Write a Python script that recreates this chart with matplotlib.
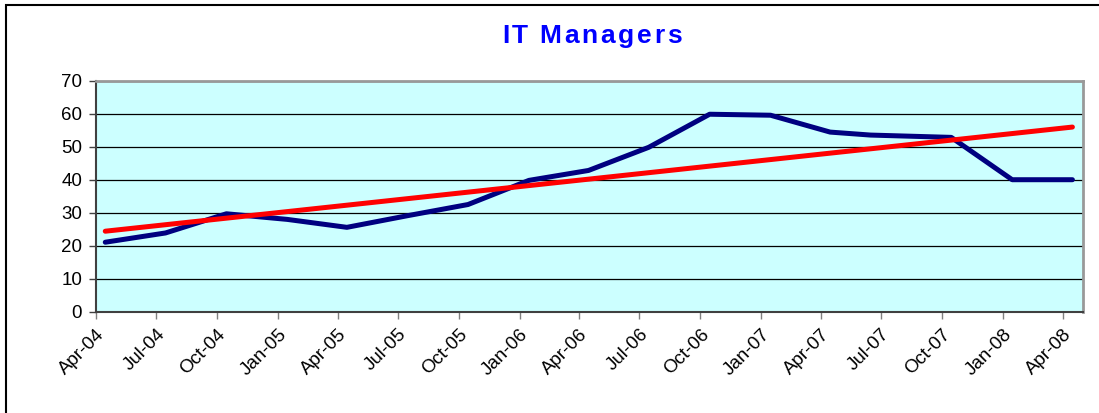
import matplotlib.pyplot as plt
import matplotlib.dates as mdates
import numpy as np
import pandas as pd
from datetime import datetime

plt.rcParams['font.family'] = ['Liberation Sans', 'DejaVu Sans']

# data
dates = ["2004-04-15", "2004-07-15", "2004-10-15", "2005-01-15", "2005-04-15",
         "2005-07-15", "2005-10-15", "2006-01-15", "2006-04-15", "2006-07-15",
         "2006-10-15", "2007-01-15", "2007-04-15", "2007-06-15", "2007-10-15",
         "2008-01-15", "2008-04-15"]
managers = [21.1, 23.9, 29.7, 28.0, 25.6, 29.1, 32.5, 39.8, 42.8, 49.8,
            59.8, 59.5, 54.4, 53.5, 52.8, 40.0, 40.0]
tick_dates = pd.date_range("2004-04-01", "2008-04-01", freq="3MS")
title = "IT Managers"

x = pd.to_datetime(dates)
xn = mdates.date2num(x)

# linear trendline like excel
slope, icpt = np.polyfit(xn, managers, 1)
trend = slope * xn + icpt

fig = plt.figure(figsize=(10.99, 4.13), dpi=100)
ax = fig.add_axes([96 / 1099, 1 - 312 / 413, (1083 - 96) / 1099, (312 - 80.5) / 413])
ax.set_facecolor("#CCFFFF")

ax.plot(x, managers, color="#000080", lw=3.6, solid_capstyle="round", zorder=3)
ax.plot([x[0], x[-1]], [trend[0], trend[-1]], color="#FF0000", lw=3.6,
        solid_capstyle="round", zorder=4)

ax.set_ylim(0, 70)
ax.set_yticks(range(0, 71, 10))
ax.set_xlim(datetime(2004, 4, 1), datetime(2008, 5, 1))
ax.set_xticks(tick_dates)
ax.set_xticklabels([d.strftime("%b-%y") for d in tick_dates], rotation=45,
                   ha="right", rotation_mode="anchor", fontsize=13.5)
ax.tick_params(axis="y", labelsize=13.5, length=5, width=1, color="#404040", pad=5)
ax.tick_params(axis="x", length=5, width=1, color="#808080", pad=5)
ax.grid(axis="y", color="black", lw=0.9)
ax.set_axisbelow(True)
for s in ["top", "right"]:
    ax.spines[s].set_color("#999999")
    ax.spines[s].set_linewidth(2)
ax.spines["left"].set_color("#404040")
ax.spines["left"].set_linewidth(1.5)
ax.spines["bottom"].set_color("#404040")
ax.spines["bottom"].set_linewidth(1.5)

# title with a bit of letter spacing, placed char by char
renderer = fig.canvas.get_renderer()
track = 2.8  # extra px between letters
chars = []
widths = []
for c in title:
    t = fig.text(0, 1 - 36 / 413, c, color="#0000FF", fontsize=19,
                 fontweight="bold", ha="left", va="center")
    w = t.get_window_extent(renderer).width if c != " " else 6.0
    chars.append(t)
    widths.append(w)
total = sum(widths) + track * (len(title) - 1)
xpos = 592 - total / 2
for t, w in zip(chars, widths):
    t.set_x(xpos / 1099)
    xpos += w + track

# chart border (cropped at right and bottom)
fig.add_artist(plt.Rectangle((5.5 / 1099, -0.1), 1.2, 1.1 - 4.5 / 413,
                             transform=fig.transFigure, fill=False,
                             edgecolor="black", lw=1.5))

fig.savefig("out.png", dpi=100)
